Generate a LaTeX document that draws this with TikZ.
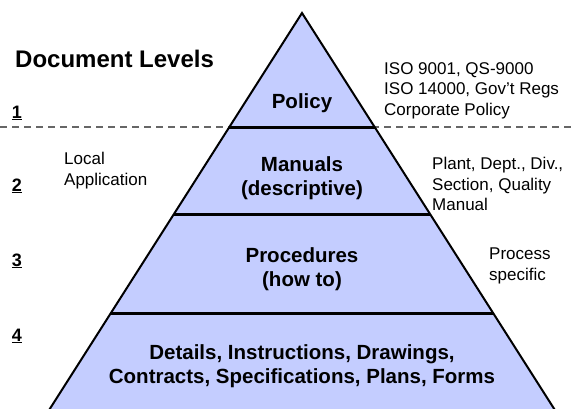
\documentclass[tikz,border=0pt]{standalone}
\usepackage{fontspec}
\setmainfont{Liberation Sans}
\usetikzlibrary{calc}
\definecolor{pyrblue}{RGB}{196,205,255}

\begin{document}
\begin{tikzpicture}[x=1pt,y=-1pt,
        levelnum/.style={anchor=base,inner sep=0pt,font=\fontsize{18}{21}\selectfont\bfseries},
        sidetext/.style={anchor=north west,inner sep=0pt,align=left,font=\fontsize{17}{20.5}\selectfont},
        layertext/.style={anchor=north,inner sep=0pt,align=center,font=\fontsize{20.5}{24.5}\selectfont\bfseries}]
        \clip (0,0) rectangle (574,408);
        \coordinate (apex) at (302,13);
        \coordinate (bl) at (30,440);
        \coordinate (br) at (574,440);
        % level boundaries
        \coordinate (d1w) at (0,127);
        \coordinate (d1e) at (574,127);
        \coordinate (d2w) at (0,214);
        \coordinate (d2e) at (574,214);
        \coordinate (d3w) at (0,313);
        \coordinate (d3e) at (574,313);
        \coordinate (L1) at (intersection of apex--bl and d1w--d1e);
        \coordinate (R1) at (intersection of apex--br and d1w--d1e);
        \coordinate (L2) at (intersection of apex--bl and d2w--d2e);
        \coordinate (R2) at (intersection of apex--br and d2w--d2e);
        \coordinate (L3) at (intersection of apex--bl and d3w--d3e);
        \coordinate (R3) at (intersection of apex--br and d3w--d3e);
        \draw[gray!80!black,line width=1.2pt,dash pattern=on 7pt off 5pt] (d1w) -- (d1e);
        \fill[pyrblue] (apex) -- (bl) -- (br) -- cycle;
        \draw[line width=2pt,line join=miter] (bl) -- (apex) -- (br);
        \draw[line width=3pt] (L1) -- (R1);
        \draw[line width=3pt] (L2) -- (R2);
        \draw[line width=3pt] (L3) -- (R3);
        % labels
        \node (title) at (15,67) [anchor=base west,inner sep=0pt,font=\fontsize{24}{28}\selectfont\bfseries] {Document Levels};
        \node (n1) at (17,118) [levelnum] {\underline{1}};
        \node (n2) at (17,191) [levelnum] {\underline{2}};
        \node (n3) at (17,266) [levelnum] {\underline{3}};
        \node (n4) at (17,341) [levelnum] {\underline{4}};
        \node (policy) at (302,108) [anchor=base,inner sep=0pt,font=\fontsize{20.5}{24.5}\selectfont\bfseries] {Policy};
        \node (manuals) at (302,156) [layertext] {Manuals\\(descriptive)};
        \node (procs) at (302,247) [layertext] {Procedures\\(how to)};
        \node (details) at (302,344) [layertext] {Details, Instructions, Drawings,\\Contracts, Specifications, Plans, Forms};
        \node (iso) at (384,62) [sidetext] {ISO 9001, QS-9000\\ISO 14000, Gov't Regs\\Corporate Policy};
        \node (local) at (64,152) [sidetext] {Local\\Application};
        \node (plant) at (432,157) [sidetext] {Plant, Dept., Div.,\\Section, Quality\\Manual};
        \node (process) at (489,248) [sidetext] {Process\\specific};
\end{tikzpicture}
\end{document}
